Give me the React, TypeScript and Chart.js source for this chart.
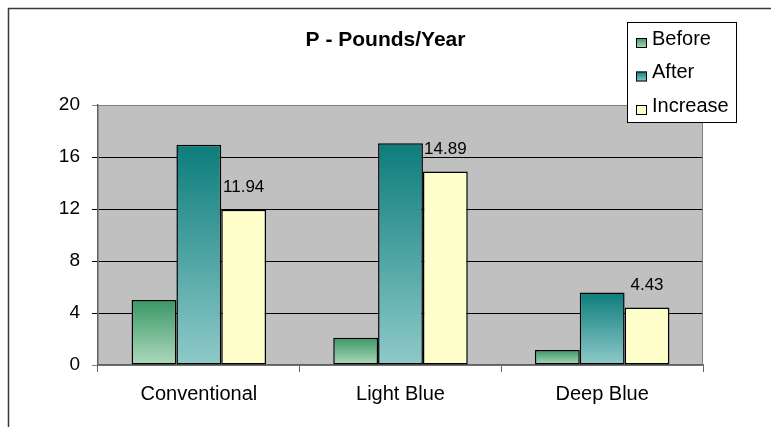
import React, { useEffect, useRef } from "react";
import { Chart, registerables } from "chart.js";

Chart.register(...registerables);

const categories = ["Conventional", "Light Blue", "Deep Blue"];
const seriesNames = ["Before", "After", "Increase"];
const beforeValues = [5.0, 2.1, 1.15];
const afterValues = [16.94, 17.05, 5.58];
const increaseValues = [11.94, 14.89, 4.43];
const yTicks = [0, 4, 8, 12, 16, 20];
const titleText = "P - Pounds/Year";

const FONT = "'Liberation Sans', Arial, sans-serif";

const fills = [
  { top: "#3a9766", bottom: "#aedabd" },
  { top: "#0c7d7b", bottom: "#8fcaca" },
  { top: "#ffffcc", bottom: "#ffffcc" },
];

function barFill(idx: number) {
  return (c: any) => {
    const f = fills[idx];
    const chart = c.chart;
    const area = chart.chartArea;
    if (!area || c.type !== "data" || !chart.scales || !chart.scales.y) return f.bottom;
    const yTop = chart.scales.y.getPixelForValue(c.raw);
    const g = chart.ctx.createLinearGradient(0, yTop, 0, area.bottom);
    g.addColorStop(0, f.top);
    g.addColorStop(1, f.bottom);
    return g;
  };
}

const decorPlugin = {
  id: "decor",
  beforeDraw(chart: any) {
    const { ctx, chartArea: a } = chart;
    ctx.save();
    ctx.fillStyle = "#ffffff";
    ctx.fillRect(0, 0, chart.width, chart.height);
    ctx.fillStyle = "#c0c0c0";
    ctx.fillRect(a.left, a.top, a.right - a.left, a.bottom - a.top);
    // outer frame
    ctx.strokeStyle = "#3a3a3a";
    ctx.lineWidth = 1.5;
    ctx.beginPath();
    ctx.moveTo(8.5, chart.height);
    ctx.lineTo(8.5, 8.5);
    ctx.lineTo(chart.width, 8.5);
    ctx.stroke();
    // title
    ctx.fillStyle = "#000";
    ctx.font = `bold 21px ${FONT}`;
    ctx.textAlign = "center";
    ctx.textBaseline = "middle";
    ctx.fillText(titleText, chart.width / 2, 40);
    ctx.restore();
  },
  beforeDatasetsDraw(chart: any) {
    const { ctx, chartArea: a } = chart;
    ctx.save();
    ctx.strokeStyle = "#808080";
    ctx.lineWidth = 1;
    ctx.beginPath();
    ctx.moveTo(a.left, a.top + 0.5);
    ctx.lineTo(a.right - 0.5, a.top + 0.5);
    ctx.lineTo(a.right - 0.5, a.bottom);
    ctx.stroke();
    ctx.restore();
  },
  afterDatasetsDraw(chart: any) {
    const { ctx } = chart;
    ctx.save();
    // data labels for Increase
    const meta = chart.getDatasetMeta(2);
    ctx.fillStyle = "#000";
    ctx.font = `17px ${FONT}`;
    ctx.textAlign = "center";
    ctx.textBaseline = "middle";
    meta.data.forEach((el: any, i: number) => {
      ctx.fillText(increaseValues[i].toFixed(2), el.x, el.y - 22);
    });
    // legend
    const lx = 627, ly = 22, lw = 109, lh = 100;
    ctx.fillStyle = "#ffffff";
    ctx.fillRect(lx, ly, lw, lh);
    ctx.strokeStyle = "#000";
    ctx.lineWidth = 1;
    ctx.strokeRect(lx + 0.5, ly + 0.5, lw, lh);
    ctx.font = `20px ${FONT}`;
    ctx.textAlign = "left";
    seriesNames.forEach((name, i) => {
      const cy = 39 + i * 33.5;
      const mx = 636, my = cy - 1, ms = 10;
      const g = ctx.createLinearGradient(0, my, 0, my + ms);
      g.addColorStop(0, fills[i].top);
      g.addColorStop(1, fills[i].bottom);
      ctx.fillStyle = g;
      ctx.fillRect(mx, my, ms + 1, ms);
      ctx.strokeStyle = "#000";
      ctx.strokeRect(mx + 0.5, my + 0.5, ms, ms - 1);
      ctx.fillStyle = "#000";
      ctx.fillText(name, 652, cy);
    });
    ctx.restore();
  },
};

export default function App() {
  const ref = useRef<HTMLCanvasElement | null>(null);
  useEffect(() => {
    if (!ref.current) return;
    const datasets = [beforeValues, afterValues, increaseValues].map((vals, i) => ({
      label: seriesNames[i],
      data: vals,
      backgroundColor: barFill(i),
      borderColor: "#000000",
      borderWidth: 1.5,
      borderSkipped: false as any,
      categoryPercentage: 0.667,
      barPercentage: 1.0,
    }));
    const chart = new Chart(ref.current, {
      type: "bar",
      data: { labels: categories, datasets },
      plugins: [decorPlugin],
      options: {
        animation: false,
        responsive: false,
        devicePixelRatio: 1,
        layout: { padding: { left: 0, right: 68, top: 105, bottom: 0 } },
        plugins: {
          legend: { display: false },
          title: { display: false },
          tooltip: { enabled: false },
        },
        scales: {
          x: {
            afterFit: (s: any) => { s.height = 62; },
            grid: {
              display: true,
              drawOnChartArea: false,
              drawTicks: true,
              tickLength: 7,
              offset: true,
              color: "#606060",
            },
            border: { display: true, color: "#606060", width: 1.5 },
            ticks: {
              color: "#000",
              padding: 10,
              font: { family: FONT, size: 20 },
              maxRotation: 0,
            },
          },
          y: {
            min: 0,
            max: 20,
            afterFit: (s: any) => { s.width = 98; },
            afterBuildTicks: (s: any) => { s.ticks = yTicks.map((v) => ({ value: v })); },
            grid: {
              color: (c: any) => (c.tick && (c.tick.value === 0 || c.tick.value === 20) ? "#808080" : "#000000"),
              lineWidth: 1,
              tickLength: 6,
            },
            border: { display: true, color: "#606060", width: 1.5 },
            ticks: {
              color: "#000",
              padding: 12,
              font: { family: FONT, size: 19 },
            },
          },
        },
      },
    });
    return () => chart.destroy();
  }, []);
  return (
    <div style={{ position: "fixed", left: 0, top: 0, width: 771, height: 427, background: "#fff" }}>
      <canvas ref={ref} width={771} height={427} style={{ display: "block", width: 771, height: 427 }} />
    </div>
  );
}
